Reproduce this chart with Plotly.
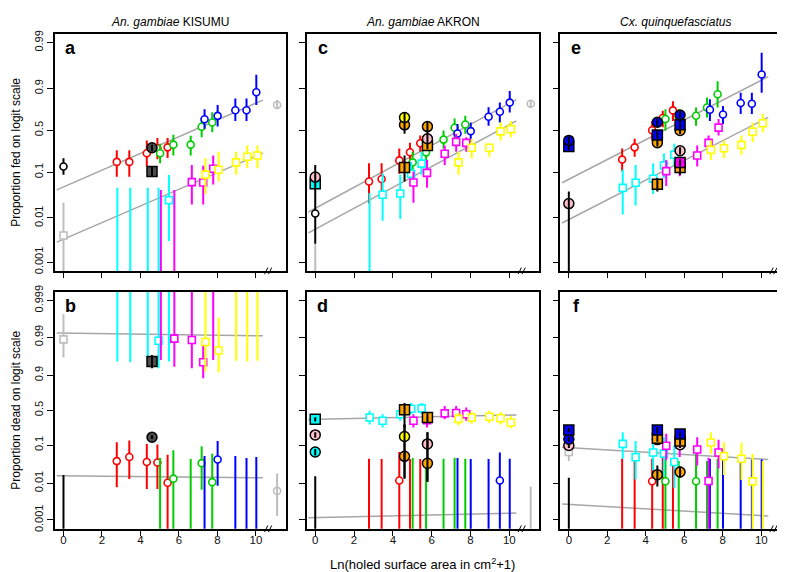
import numpy as np
import plotly.graph_objects as go

# ---------------- data ----------------
# x positions: Ln(holed surface area in cm2 + 1)
X_RED = [2.77, 3.42, 4.33, 4.88, 5.41]
X_GREEN = [5.02, 5.71, 6.61, 7.18, 7.73]
X_BLUE = [7.33, 8.01, 8.93, 9.51, 10.02]
X_CYAN = [2.80, 3.47, 4.38, 4.94, 5.48]
X_MAGENTA = [5.06, 5.76, 6.67, 7.26, 7.78]
X_YELLOW = [7.38, 8.06, 8.97, 9.55, 10.08]
X_NONET = 0.0
X_NET1 = 4.6
X_NET2 = 5.78
X_REF = 11.1

X_TICKS = [0, 2, 4, 6, 8, 10]
Y_TICKS_FED = [0.001, 0.01, 0.1, 0.5, 0.9, 0.99]
Y_TICKS_DEAD = [0.001, 0.01, 0.1, 0.5, 0.9, 0.99, 0.999]

TITLES = ["<i>An. gambiae</i> KISUMU", "<i>An. gambiae</i> AKRON", "<i>Cx. quinquefasciatus</i>"]
LETTERS_TOP = ["a", "c", "e"]
LETTERS_BOT = ["b", "d", "f"]

# fitted lines (intercept, slope on logit scale), x extent
FIT_X = [-0.35, 10.36]
A_FIT = [(-2.97, 0.439), (-5.71, 0.436)]
B_FIT = [(4.844, -0.0159), (-4.124, -0.0121)]
C_FIT = [(-4.09, 0.55), (-5.19, 0.548)]
D_FIT = [(-0.58, 0.027), (-6.75, 0.027)]
E_FIT = [(-2.57, 0.519), (-4.68, 0.517)]
F_FIT = [(-2.36, -0.0722), (-5.92, -0.0713)]

# series: (proportion, lower CI, upper CI)
A_RED = [(0.16, 0.08, 0.26), (0.16, 0.08, 0.26), (0.23, 0.13, 0.37), (0.28, 0.18, 0.40), (0.29, 0.19, 0.40)]
A_GREEN = [(0.23, 0.15, 0.33), (0.32, 0.21, 0.44), (0.32, 0.21, 0.43), (0.545, 0.41, 0.66), (0.60, 0.475, 0.72)]
A_BLUE = [(0.64, 0.52, 0.75), (0.68, 0.55, 0.79), (0.74, 0.62, 0.84), (0.74, 0.62, 0.84), (0.88, 0.79, 0.948)]
A_CYAN = [(0, 0, 0.047), (0, 0, 0.047), (0, 0, 0.047), (0, 0, 0.047), (0.025, 0.003, 0.088)]
A_MAGENTA = [(0, 0, 0.042), (0, 0, 0.042), (0.062, 0.02, 0.14), (0.061, 0.02, 0.135), (0.117, 0.055, 0.21)]
A_YELLOW = [(0.089, 0.034, 0.187), (0.112, 0.064, 0.244), (0.157, 0.089, 0.244), (0.20, 0.12, 0.31), (0.21, 0.12, 0.31)]

B_RED = [(0.039, 0.0078, 0.118), (0.050, 0.013, 0.129), (0.037, 0.007, 0.107), (0.036, 0.007, 0.104), (0.0103, 0, 0.057)]
B_GREEN = [(0, 0, 0.047), (0.0133, 0, 0.074), (0, 0, 0.044), (0.0345, 0.0067, 0.094), (0.0107, 0, 0.061)]
B_BLUE = [(0, 0, 0.053), (0.043, 0.0085, 0.125), (0, 0, 0.053), (0, 0, 0.047), (0, 0, 0.05)]
B_CYAN = [(1, 0.955, 1), (1, 0.953, 1), (1, 0.955, 1), (0.9875, 0.933, 1), (1, 0.955, 1)]
B_MAGENTA = [(1, 0.959, 1), (0.989, 0.939, 1), (0.988, 0.933, 1), (0.953, 0.882, 0.985), (1, 0.959, 1)]
B_YELLOW = [(0.9865, 0.919, 1), (0.977, 0.914, 0.997), (1, 0.957, 1), (1, 0.955, 1), (1, 0.957, 1)]

C_RED = [(0.064, 0.021, 0.15), (0.072, 0.031, 0.15), (0.171, 0.093, 0.277), (0.24, 0.151, 0.343), (0.336, 0.244, 0.433)]
C_GREEN = [(0.157, 0.089, 0.244), (0.239, 0.14, 0.33), (0.38, 0.277, 0.497), (0.532, 0.39, 0.65), (0.574, 0.455, 0.68)]
C_BLUE = [(0.458, 0.35, 0.58), (0.488, 0.35, 0.60), (0.67, 0.56, 0.77), (0.725, 0.60, 0.81), (0.81, 0.717, 0.886)]
C_CYAN = [(0, 0, 0.036), (0.033, 0.0087, 0.095), (0.035, 0.0095, 0.089), (0.093, 0.051, 0.161), (0.148, 0.089, 0.244)]
C_MAGENTA = [(0.061, 0.022, 0.103), (0.097, 0.047, 0.174), (0.226, 0.14, 0.31), (0.352, 0.244, 0.455), (0.34, 0.244, 0.41)]
C_YELLOW = [(0.157, 0.089, 0.244), (0.285, 0.187, 0.39), (0.285, 0.20, 0.33), (0.485, 0.37, 0.60), (0.515, 0.41, 0.62)]

D_RED = [(0, 0, 0.045), (0, 0, 0.044), (0.0118, 0, 0.067), (0, 0, 0.044), (0, 0, 0.044)]
D_GREEN = [(0, 0, 0.047), (0, 0, 0.044), (0, 0, 0.045), (0, 0, 0.048), (0, 0, 0.045)]
D_BLUE = [(0, 0, 0.047), (0, 0, 0.044), (0, 0, 0.044), (0.0118, 0, 0.065), (0, 0, 0.045)]
D_CYAN = [(0.387, 0.29, 0.49), (0.34, 0.253, 0.435), (0.435, 0.34, 0.54), (0.523, 0.435, 0.61), (0.528, 0.435, 0.61)]
D_MAGENTA = [(0.34, 0.253, 0.435), (0.348, 0.253, 0.435), (0.45, 0.36, 0.565), (0.455, 0.36, 0.565), (0.435, 0.34, 0.54)]
D_YELLOW = [(0.366, 0.28, 0.46), (0.387, 0.30, 0.48), (0.397, 0.31, 0.49), (0.375, 0.29, 0.47), (0.316, 0.24, 0.41)]

E_RED = [(0.177, 0.103, 0.277), (0.29, 0.20, 0.39), (0.50, 0.37, 0.62), (0.655, 0.54, 0.735), (0.739, 0.62, 0.82)]
E_GREEN = [(0.643, 0.497, 0.75), (0.659, 0.54, 0.75), (0.682, 0.56, 0.767), (0.767, 0.66, 0.847), (0.868, 0.767, 0.929)]
E_BLUE = [(0.745, 0.62, 0.835), (0.696, 0.58, 0.78), (0.807, 0.70, 0.877), (0.80, 0.70, 0.877), (0.949, 0.877, 0.983)]
E_CYAN = [(0.0465, 0.012, 0.112), (0.06, 0.019, 0.14), (0.073, 0.034, 0.15), (0.136, 0.076, 0.228), (0.217, 0.13, 0.33)]
E_MAGENTA = [(0.105, 0.051, 0.174), (0.151, 0.082, 0.20), (0.21, 0.13, 0.31), (0.34, 0.244, 0.433), (0.535, 0.433, 0.643)]
E_YELLOW = [(0.263, 0.174, 0.37), (0.28, 0.187, 0.37), (0.317, 0.214, 0.433), (0.48, 0.35, 0.60), (0.59, 0.475, 0.70)]

F_RED = [(0, 0, 0.045), (0, 0, 0.043), (0.0113, 0, 0.045), (0, 0, 0.052), (0, 0, 0.044)]
F_GREEN = [(0.0113, 0, 0.043), (0, 0, 0.039), (0.0113, 0, 0.061), (0, 0, 0.039), (0, 0, 0.044)]
F_BLUE = [(0, 0, 0.044), (0, 0, 0.044), (0, 0, 0.044), (0, 0, 0.043), (0, 0, 0.043)]
F_CYAN = [(0.107, 0.045, 0.20), (0.049, 0.0127, 0.125), (0.065, 0.0225, 0.129), (0.061, 0.015, 0.154), (0.037, 0.0074, 0.098)]
F_MAGENTA = [(0.096, 0.041, 0.184), (0.102, 0.050, 0.20), (0.078, 0.030, 0.154), (0.0115, 0, 0.048), (0.065, 0.025, 0.134)]
F_YELLOW = [(0.116, 0.061, 0.20), (0.052, 0.0166, 0.118), (0.045, 0.0122, 0.114), (0.0112, 0, 0.061), (0, 0, 0.039)]

# single points: (x, proportion, lower, upper)
A_NONET_C = [(X_NONET, 0.13, 0.089, 0.187)]
A_NONET_S = [(X_NONET, 0.004, 0, 0.022)]
A_REF = [(X_REF, 0.79, 0.75, 0.83)]
A_BLACK_C = [(X_NET1, 0.285, 0.25, 0.32)]
A_BLACK_S = [(X_NET1, 0.103, 0.08, 0.13)]

B_NONET_C = [(X_NONET, 0, 0, 0.0166)]
B_NONET_S = [(X_NONET, 0.9885, 0.965, 0.9976)]
B_REF = [(X_REF, 0.0062, 0.00128, 0.0184)]
B_BLACK_C = [(X_NET1, 0.154, 0.14, 0.17)]
B_BLACK_S = [(X_NET1, 0.955, 0.933, 0.970)]

C_NONET_C = [(X_NONET, 0.0126, 0.0026, 0.14)]
C_NONET_S = [(X_NONET, 0, 0, 0.0026)]
C_REF = [(X_REF, 0.80, 0.77, 0.83)]
C_PINK_C = [(X_NONET, 0.079, 0.064, 0.10), (X_NET2, 0.39, 0.33, 0.45)]
C_CYAN_S = [(X_NONET, 0.057, 0.045, 0.07)]
C_YELLOW_C = [(X_NET1, 0.66, 0.60, 0.72)]
C_ORANGE_C = [(X_NET1, 0.57, 0.455, 0.717), (X_NET2, 0.548, 0.45, 0.62)]
C_ORANGE_S = [(X_NET1, 0.124, 0.064, 0.21), (X_NET2, 0.31, 0.27, 0.35)]

D_NONET_C = [(X_NONET, 0, 0, 0.0155)]
D_REF = [(X_REF, 0, 0, 0.0081)]
D_CYAN_S = [(X_NONET, 0.36, 0.33, 0.39)]
D_PINK_C = [(X_NONET, 0.174, 0.15, 0.20), (X_NET2, 0.107, 0.011, 0.20)]
D_CYAN_C = [(X_NONET, 0.067, 0.055, 0.08)]
D_YELLOW_C = [(X_NET1, 0.16, 0.0135, 0.29)]
D_ORANGE_C = [(X_NET1, 0.052, 0.0135, 0.29), (X_NET2, 0.034, 0.011, 0.20)]
D_ORANGE_S = [(X_NET1, 0.508, 0.253, 0.61), (X_NET2, 0.387, 0.32, 0.45)]

E_REF = [(X_REF, 0.875, 0.85, 0.90)]
E_BLUE_C = [(X_NONET, 0.37, 0.32, 0.42), (X_NET1, 0.603, 0.55, 0.65), (X_NET2, 0.69, 0.64, 0.74)]
E_BLUE_S = [(X_NONET, 0.30, 0.26, 0.35), (X_NET1, 0.437, 0.39, 0.49), (X_NET2, 0.57, 0.52, 0.62)]
E_PINK_C = [(X_NONET, 0.021, 0, 0.039), (X_NET2, 0.254, 0.22, 0.29)]
E_ORANGE_C = [(X_NET1, 0.343, 0.30, 0.39), (X_NET2, 0.497, 0.45, 0.55)]
E_ORANGE_S = [(X_NET1, 0.0556, 0.039, 0.076), (X_NET2, 0.124, 0.089, 0.15)]
E_MAGENTA_S = [(X_NET2, 0.155, 0.13, 0.18)]

F_NONET_C = [(X_NONET, 0, 0, 0.014)]
F_NONET_S = [(X_NONET, 0.067, 0.039, 0.098)]
F_REF = [(X_REF, 0, 0, 0.0074)]
F_BLUE_S = [(X_NONET, 0.223, 0.20, 0.25), (X_NET1, 0.223, 0.19, 0.26), (X_NET2, 0.182, 0.14, 0.21)]
F_BLUE_C = [(X_NONET, 0.138, 0.12, 0.16), (X_NET1, 0.136, 0.115, 0.16), (X_NET2, 0.13, 0.11, 0.155)]
F_PINK_C = [(X_NONET, 0.098, 0.085, 0.11), (X_NET2, 0.102, 0.085, 0.12)]
F_ORANGE_S = [(X_NET1, 0.146, 0.12, 0.17), (X_NET2, 0.125, 0.10, 0.15)]
F_ORANGE_C = [(X_NET1, 0.017, 0.0081, 0.030), (X_NET2, 0.020, 0.014, 0.028)]

# ---------------- styles ----------------
COL = {
    "red": "#FF0000", "green": "#00CD00", "blue": "#0000FF", "cyan": "#00FFFF",
    "magenta": "#FF00FF", "yellow": "#FFFF00", "gray": "#BEBEBE", "black": "#000000",
    "orange": "#FFA500", "pink": "#FFC0CB", "dark": "#4D4D4D",
}


def logit(p):
    p = np.clip(np.asarray(p, dtype=float), 1e-9, 1 - 1e-9)
    return np.log(p / (1 - p))


fig = go.Figure()

W, H = 785, 572
COLS_PX = [(47, 278), (299, 532), (553, 784)]
ROWS_PX = [(20, 261), (282, 523)]
XR = [-0.444, 11.544]
YR_TOP = [-7.37, 5.06]
YR_BOT = [-7.46, 7.46]


def ax_id(row, col):
    n = row * 3 + col + 1
    return ("x" if n == 1 else f"x{n}"), ("y" if n == 1 else f"y{n}")


def add_open(row, col, xs, rows, color, symbol):
    xa, ya = ax_id(row, col)
    p = [r[0] for r in rows]
    lo = [r[1] for r in rows]
    hi = [r[2] for r in rows]
    y = logit(p)
    fig.add_trace(go.Scatter(
        x=xs, y=y, mode="markers", xaxis=xa, yaxis=ya, showlegend=False,
        marker=dict(symbol=symbol, size=7, color="white",
                    line=dict(color=color, width=1.6)),
        error_y=dict(type="data", symmetric=False, array=logit(hi) - y,
                     arrayminus=y - logit(lo), color=color,
                     thickness=2, width=0),
    ))


def add_points_open(row, col, pts, color, symbol, hollow=False):
    xa, ya = ax_id(row, col)
    xs = [r[0] for r in pts]
    y = logit([r[1] for r in pts])
    lo = logit([r[2] for r in pts])
    hi = logit([r[3] for r in pts])
    if hollow:
        marker = dict(symbol=symbol + "-open", size=7, color=color, line=dict(width=1.6))
    else:
        marker = dict(symbol=symbol, size=7, color="white", line=dict(color=color, width=1.6))
    fig.add_trace(go.Scatter(
        x=xs, y=y, mode="markers", xaxis=xa, yaxis=ya, showlegend=False, marker=marker,
        error_y=dict(type="data", symmetric=False, array=hi - y, arrayminus=y - lo,
                     color=color, thickness=2, width=0),
    ))


def add_filled(row, col, pts, fill, symbol):
    xa, ya = ax_id(row, col)
    xs = [r[0] for r in pts]
    y = logit([r[1] for r in pts])
    lo = logit([r[2] for r in pts])
    hi = logit([r[3] for r in pts])
    fig.add_trace(go.Scatter(
        x=xs, y=y, mode="markers", xaxis=xa, yaxis=ya, showlegend=False,
        marker=dict(symbol=symbol, size=10, color=fill,
                    line=dict(color="black", width=1.5)),
    ))
    fig.add_trace(go.Scatter(
        x=xs, y=y, mode="markers", xaxis=xa, yaxis=ya, showlegend=False,
        marker=dict(size=1, color="rgba(0,0,0,0)"),
        error_y=dict(type="data", symmetric=False, array=hi - y,
                     arrayminus=y - lo, color="black", thickness=2, width=0),
    ))


def add_fits(row, col, fits):
    xa, ya = ax_id(row, col)
    xs = np.linspace(FIT_X[0], FIT_X[1], 40)
    for a, b in fits:
        fig.add_trace(go.Scatter(x=xs, y=a + b * xs, mode="lines", xaxis=xa, yaxis=ya,
                                 showlegend=False, line=dict(color="#A6A6A6", width=1.5)))


def add_series_set(row, col, red, green, blue, cyan, magenta, yellow):
    add_open(row, col, X_RED, red, COL["red"], "circle")
    add_open(row, col, X_GREEN, green, COL["green"], "circle")
    add_open(row, col, X_BLUE, blue, COL["blue"], "circle")
    add_open(row, col, X_CYAN, cyan, COL["cyan"], "square")
    add_open(row, col, X_MAGENTA, magenta, COL["magenta"], "square")
    add_open(row, col, X_YELLOW, yellow, COL["yellow"], "square")


# panel a
add_fits(0, 0, A_FIT)
add_series_set(0, 0, A_RED, A_GREEN, A_BLUE, A_CYAN, A_MAGENTA, A_YELLOW)
add_points_open(0, 0, A_NONET_S, COL["gray"], "square")
add_points_open(0, 0, A_NONET_C, COL["black"], "circle")
add_points_open(0, 0, A_REF, COL["gray"], "circle", hollow=True)
add_filled(0, 0, A_BLACK_S, COL["dark"], "square")
add_filled(0, 0, A_BLACK_C, COL["dark"], "circle")

# panel b
add_fits(1, 0, B_FIT)
add_series_set(1, 0, B_RED, B_GREEN, B_BLUE, B_CYAN, B_MAGENTA, B_YELLOW)
add_points_open(1, 0, B_NONET_S, COL["gray"], "square")
add_points_open(1, 0, B_NONET_C, COL["black"], "circle")
add_points_open(1, 0, B_REF, COL["gray"], "circle", hollow=True)
add_filled(1, 0, B_BLACK_S, COL["dark"], "square")
add_filled(1, 0, B_BLACK_C, COL["dark"], "circle")

# panel c
add_fits(0, 1, C_FIT)
add_series_set(0, 1, C_RED, C_GREEN, C_BLUE, C_CYAN, C_MAGENTA, C_YELLOW)
add_points_open(0, 1, C_NONET_S, COL["gray"], "square")
add_points_open(0, 1, C_NONET_C, COL["black"], "circle")
add_points_open(0, 1, C_REF, COL["gray"], "circle", hollow=True)
add_filled(0, 1, C_CYAN_S, COL["cyan"], "square")
add_filled(0, 1, C_ORANGE_S, COL["orange"], "square")
add_filled(0, 1, C_PINK_C, COL["pink"], "circle")
add_filled(0, 1, C_ORANGE_C, COL["orange"], "circle")
add_filled(0, 1, C_YELLOW_C, COL["yellow"], "circle")

# panel d
add_fits(1, 1, D_FIT)
add_series_set(1, 1, D_RED, D_GREEN, D_BLUE, D_CYAN, D_MAGENTA, D_YELLOW)
add_points_open(1, 1, D_NONET_C, COL["black"], "circle")
add_points_open(1, 1, D_REF, COL["gray"], "circle", hollow=True)
add_filled(1, 1, D_CYAN_S, COL["cyan"], "square")
add_filled(1, 1, D_ORANGE_S, COL["orange"], "square")
add_filled(1, 1, D_CYAN_C, COL["cyan"], "circle")
add_filled(1, 1, D_PINK_C, COL["pink"], "circle")
add_filled(1, 1, D_ORANGE_C, COL["orange"], "circle")
add_filled(1, 1, D_YELLOW_C, COL["yellow"], "circle")

# panel e
add_fits(0, 2, E_FIT)
add_series_set(0, 2, E_RED, E_GREEN, E_BLUE, E_CYAN, E_MAGENTA, E_YELLOW)
add_points_open(0, 2, E_REF, COL["gray"], "circle", hollow=True)
add_filled(0, 2, E_ORANGE_S, COL["orange"], "square")
add_filled(0, 2, E_MAGENTA_S, COL["magenta"], "square")
add_filled(0, 2, E_PINK_C, COL["pink"], "circle")
add_filled(0, 2, E_ORANGE_C, COL["orange"], "circle")
add_filled(0, 2, E_BLUE_S, COL["blue"], "square")
add_filled(0, 2, E_BLUE_C, COL["blue"], "circle")

# panel f
add_fits(1, 2, F_FIT)
add_series_set(1, 2, F_RED, F_GREEN, F_BLUE, F_CYAN, F_MAGENTA, F_YELLOW)
add_points_open(1, 2, F_NONET_S, COL["gray"], "square")
add_points_open(1, 2, F_NONET_C, COL["black"], "circle")
add_points_open(1, 2, F_REF, COL["gray"], "circle", hollow=True)
add_filled(1, 2, F_ORANGE_C, COL["orange"], "circle")
add_filled(1, 2, F_PINK_C, COL["pink"], "circle")
add_filled(1, 2, F_BLUE_C, COL["blue"], "circle")
add_filled(1, 2, F_ORANGE_S, COL["orange"], "square")
add_filled(1, 2, F_BLUE_S, COL["blue"], "square")

# ---------------- layout ----------------
FONT = "Liberation Sans, Arial, sans-serif"
layout = dict(
    width=W, height=H, margin=dict(l=0, r=0, t=0, b=0),
    paper_bgcolor="white", plot_bgcolor="white",
    font=dict(family=FONT, color="black"), showlegend=False,
)
shapes = []
annotations = []
for row in range(2):
    y0, y1 = ROWS_PX[row]
    for col in range(3):
        x0, x1 = COLS_PX[col]
        n = row * 3 + col + 1
        xk = "xaxis" if n == 1 else f"xaxis{n}"
        yk = "yaxis" if n == 1 else f"yaxis{n}"
        xa, ya = ax_id(row, col)
        layout[xk] = dict(
            domain=[x0 / W, x1 / W], range=XR, anchor=ya,
            tickmode="array", tickvals=X_TICKS, ticktext=[str(t) for t in X_TICKS],
            showticklabels=(row == 1), ticks="outside", ticklen=5, tickwidth=1.2,
            tickcolor="black", showline=True, mirror=True, linecolor="black",
            linewidth=1.5, showgrid=False, zeroline=False, ticklabelstandoff=-5,
            tickfont=dict(size=11.5, family=FONT, color="#111"),
        )
        yt = Y_TICKS_FED if row == 0 else Y_TICKS_DEAD
        layout[yk] = dict(
            domain=[1 - y1 / H, 1 - y0 / H], range=YR_TOP if row == 0 else YR_BOT,
            anchor=xa, tickmode="array", tickvals=list(logit(yt)),
            ticktext=[str(t) for t in yt], tickangle=-90,
            showticklabels=(col == 0), ticks="outside", ticklen=6, tickwidth=1.2,
            tickcolor="black", showline=True, mirror=True, linecolor="black",
            linewidth=1.5, showgrid=False, zeroline=False,
            tickfont=dict(size=11, family=FONT, color="#111"),
        )
        # axis break marks
        for dx in (0.0, 0.2):
            shapes.append(dict(type="line", xref=xa, yref=f"{ya} domain",
                               x0=10.45 + dx, x1=10.62 + dx, y0=-0.014, y1=0.014,
                               line=dict(color="black", width=1)))
        letter = LETTERS_TOP[col] if row == 0 else LETTERS_BOT[col]
        annotations.append(dict(text=f"<b>{letter}</b>", xref="paper", yref="paper",
                                x=(x0 + 16) / W, y=1 - (y0 + 15) / H, showarrow=False,
                                xanchor="center", yanchor="middle",
                                font=dict(size=18, family=FONT, color="black")))
        if row == 0:
            annotations.append(dict(text=TITLES[col], xref="paper", yref="paper",
                                    x=(x0 + x1) / 2 / W, y=1 - 8 / H, showarrow=False,
                                    xanchor="center", yanchor="middle",
                                    font=dict(size=12, family=FONT, color="black")))

annotations.append(dict(text="Proportion fed on logit scale", xref="paper", yref="paper",
                        x=8 / W, y=1 - 140 / H, textangle=-90, showarrow=False,
                        xanchor="center", yanchor="middle",
                        font=dict(size=12, family=FONT, color="black")))
annotations.append(dict(text="Proportion dead on logit scale", xref="paper", yref="paper",
                        x=8 / W, y=1 - 402 / H, textangle=-90, showarrow=False,
                        xanchor="center", yanchor="middle",
                        font=dict(size=12, family=FONT, color="black")))
annotations.append(dict(text="Ln(holed surface area in cm<sup>2</sup>+1)", xref="paper",
                        yref="paper", x=415 / W, y=1 - 559 / H, showarrow=False,
                        xanchor="center", yanchor="middle",
                        font=dict(size=13, family=FONT, color="black")))
layout["shapes"] = shapes
layout["annotations"] = annotations
fig.update_layout(**layout)
fig.write_html("out.html")
